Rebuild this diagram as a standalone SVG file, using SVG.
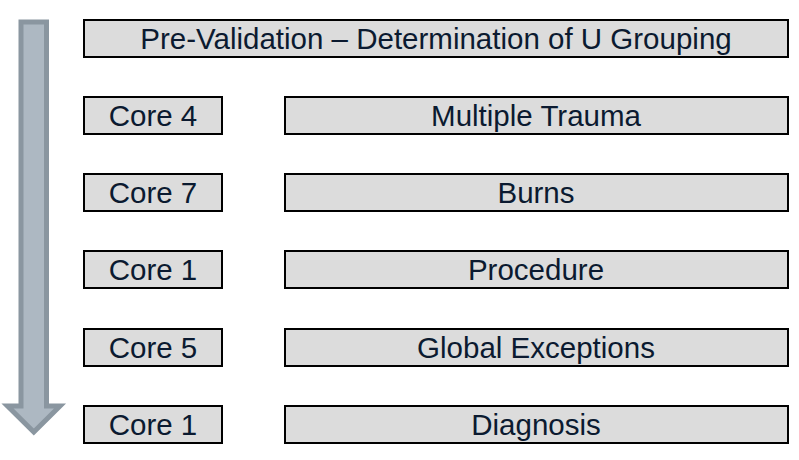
<svg xmlns="http://www.w3.org/2000/svg" width="799" height="460" viewBox="0 0 799 460">
<style>
.b{fill:#dcdcdc;stroke:#000;stroke-width:2}
.t{font-family:"Liberation Sans",Arial,sans-serif;font-size:29.5px;fill:#0b1a30;text-anchor:middle}
</style>
<rect width="799" height="460" fill="#fff"/>
<g id="arrow">
<polygon points="21,22 46.5,22 46.5,406 60,406 33.8,432 7.5,406 21,406" fill="#adb8c2" stroke="#8a96a0" stroke-width="5" stroke-linejoin="miter"/>
</g>
<g id="n0"><rect class="b" x="84" y="20" width="704" height="37"/><text class="t" x="436" y="49">Pre-Validation – Determination of U Grouping</text></g>
<g id="c1"><rect class="b" x="84" y="97" width="138" height="37"/><text class="t" x="153" y="126">Core 4</text></g>
<g id="r1"><rect class="b" x="285" y="97" width="503" height="37"/><text class="t" x="536" y="126">Multiple Trauma</text></g>
<g id="c2"><rect class="b" x="84" y="174" width="138" height="37"/><text class="t" x="153" y="203">Core 7</text></g>
<g id="r2"><rect class="b" x="285" y="174" width="503" height="37"/><text class="t" x="536" y="203">Burns</text></g>
<g id="c3"><rect class="b" x="84" y="251" width="138" height="37"/><text class="t" x="153" y="280">Core 1</text></g>
<g id="r3"><rect class="b" x="285" y="251" width="503" height="37"/><text class="t" x="536" y="280">Procedure</text></g>
<g id="c4"><rect class="b" x="84" y="329" width="138" height="37"/><text class="t" x="153" y="358">Core 5</text></g>
<g id="r4"><rect class="b" x="285" y="329" width="503" height="37"/><text class="t" x="536" y="358">Global Exceptions</text></g>
<g id="c5"><rect class="b" x="84" y="406" width="138" height="37"/><text class="t" x="153" y="435">Core 1</text></g>
<g id="r5"><rect class="b" x="285" y="406" width="503" height="37"/><text class="t" x="536" y="435">Diagnosis</text></g>
<g id="connectors"></g>
</svg>
